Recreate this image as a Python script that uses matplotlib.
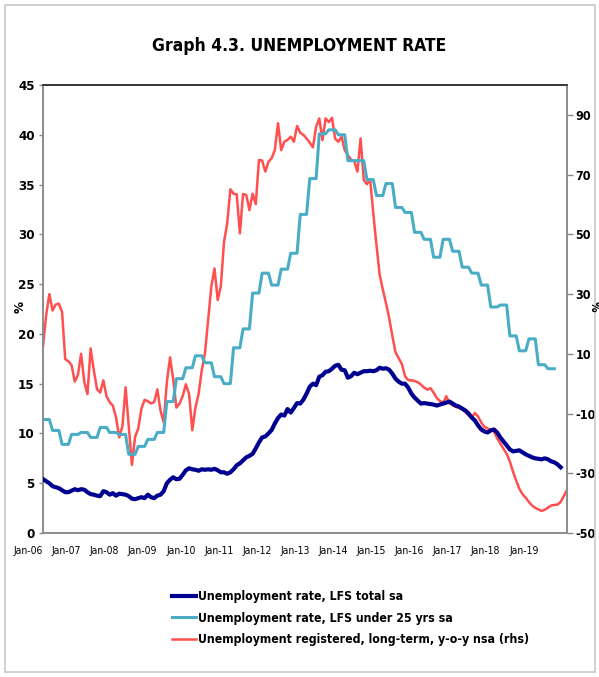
import matplotlib
matplotlib.use('Agg')
import matplotlib.pyplot as plt
import numpy as np
from matplotlib.patches import Rectangle

plt.rcParams['font.family'] = ['DejaVu Sans']
plt.rcParams['font.stretch'] = 'condensed'
plt.rcParams['axes.unicode_minus'] = False

# monthly, starting Jan-06
lfs_total = [
    5.42, 5.2, 5.0, 4.7, 4.6, 4.5, 4.3, 4.1, 4.1, 4.25, 4.4, 4.3,
    4.4, 4.35, 4.1, 3.9, 3.85, 3.75, 3.7, 4.2, 4.1, 3.85, 4.0, 3.75,
    3.95, 3.9, 3.85, 3.7, 3.45, 3.4, 3.5, 3.6, 3.5, 3.85, 3.6, 3.5,
    3.75, 3.85, 4.2, 5.0, 5.35, 5.6, 5.4, 5.45, 5.85, 6.3, 6.5, 6.4,
    6.35, 6.25, 6.4, 6.35, 6.4, 6.35, 6.45, 6.3, 6.1, 6.1, 5.95, 6.1,
    6.4, 6.8, 7.0, 7.3, 7.6, 7.75, 7.95, 8.5, 9.1, 9.6, 9.7, 10.0,
    10.35, 11.0, 11.55, 11.9, 11.8, 12.45, 12.1, 12.55, 13.05, 13.0, 13.4, 14.0,
    14.7, 15.0, 14.85, 15.7, 15.85, 16.2, 16.25, 16.5, 16.8, 16.9, 16.4, 16.35,
    15.6, 15.75, 16.1, 15.95, 16.1, 16.25, 16.25, 16.3, 16.25, 16.35, 16.6, 16.5,
    16.55, 16.4, 16.0, 15.5, 15.2, 15.0, 15.0, 14.6, 14.0, 13.6, 13.3, 13.0,
    13.05, 13.0, 12.95, 12.9, 12.8, 12.9, 13.0, 13.1, 13.2, 13.0, 12.8, 12.7,
    12.5, 12.3, 12.0, 11.6, 11.3, 10.8, 10.4, 10.2, 10.1, 10.3, 10.4, 10.1,
    9.6, 9.2, 8.8, 8.4, 8.2, 8.25, 8.3, 8.1, 7.9, 7.75, 7.6, 7.5,
    7.45, 7.4, 7.5, 7.4, 7.2, 7.1, 6.9, 6.6,
]

# quarterly LFS youth rate, shown monthly
lfs_under25 = [
    11.4, 11.4, 11.4, 10.3, 10.3, 10.3, 8.9, 8.9, 8.9, 9.9, 9.9, 9.9,
    10.1, 10.1, 10.1, 9.6, 9.6, 9.6, 10.6, 10.6, 10.6, 10.1, 10.1, 10.1,
    9.9, 9.9, 9.9, 7.9, 7.9, 7.9, 8.7, 8.7, 8.7, 9.4, 9.4, 9.4,
    10.1, 10.1, 10.1, 13.2, 13.2, 13.2, 15.5, 15.5, 15.5, 16.6, 16.6, 16.6,
    17.8, 17.8, 17.8, 17.1, 17.1, 17.1, 15.7, 15.7, 15.7, 15.0, 15.0, 15.0,
    18.6, 18.6, 18.6, 20.5, 20.5, 20.5, 24.1, 24.1, 24.1, 26.1, 26.1, 26.1,
    24.9, 24.9, 24.9, 26.5, 26.5, 26.5, 28.1, 28.1, 28.1, 32.0, 32.0, 32.0,
    35.6, 35.6, 35.6, 40.1, 40.1, 40.1, 40.5, 40.5, 40.5, 40.0, 40.0, 40.0,
    37.4, 37.4, 37.4, 37.4, 37.4, 37.4, 35.5, 35.5, 35.5, 33.9, 33.9, 33.9,
    35.1, 35.1, 35.1, 32.7, 32.7, 32.7, 32.2, 32.2, 32.2, 30.2, 30.2, 30.2,
    29.5, 29.5, 29.5, 27.7, 27.7, 27.7, 29.5, 29.5, 29.5, 28.3, 28.3, 28.3,
    26.7, 26.7, 26.7, 26.1, 26.1, 26.1, 24.9, 24.9, 24.9, 22.7, 22.7, 22.7,
    22.9, 22.9, 22.9, 19.8, 19.8, 19.8, 18.3, 18.3, 18.3, 19.5, 19.5, 19.5,
    16.9, 16.9, 16.9, 16.5, 16.5, 16.5,
]

# registered long-term unemployment, y-o-y % (rhs)
registered_lt = [
    12.4, 23.0, 30.0, 24.5, 26.5, 26.8, 24.0, 8.2, 7.5, 6.2, 0.7, 2.9,
    10.0, 0.6, -3.5, 11.8, 4.5, -1.8, -3.0, 1.1, -4.2, -6.2, -7.4, -11.3,
    -18.0, -14.3, -1.2, -14.0, -27.2, -17.8, -15.0, -8.3, -5.4, -5.9, -6.6, -6.2,
    -1.9, -9.0, -13.0, 0.5, 8.8, 1.5, -8.0, -6.7, -4.1, -0.2, -3.5, -15.6,
    -8.0, -3.4, 4.6, 10.2, 21.3, 32.5, 38.6, 28.0, 32.6, 47.5, 53.7, 65.1,
    63.6, 63.4, 50.3, 63.5, 63.2, 58.1, 63.6, 60.1, 74.9, 74.7, 71.0, 74.3,
    75.5, 78.2, 87.2, 78.2, 81.0, 81.6, 82.7, 81.0, 86.3, 84.0, 83.3, 82.1,
    80.7, 79.1, 86.0, 88.8, 81.5, 88.8, 87.6, 89.0, 82.0, 81.0, 82.7, 78.2,
    76.5, 75.0, 74.5, 71.0, 82.1, 68.2, 66.8, 68.5, 57.0, 46.5, 36.5, 31.5,
    27.0, 22.0, 16.0, 10.5, 8.5, 6.6, 2.5, 1.2, 1.1, 0.9, 0.5, -0.3,
    -1.3, -2.0, -1.5, -3.0, -4.8, -5.8, -6.4, -4.2, -6.6, -7.3, -7.8, -8.1,
    -8.6, -9.5, -10.6, -11.4, -9.8, -11.0, -13.0, -14.5, -15.0, -15.4, -16.0, -18.3,
    -20.0, -21.8, -23.5, -26.0, -29.5, -32.5, -35.2, -37.0, -38.2, -39.6, -40.8, -41.6,
    -42.1, -42.6, -42.2, -41.5, -40.8, -40.6, -40.5, -39.6, -37.6, -35.6,
]

year_labels = ['Jan-%02d' % y for y in range(6, 20)]

labels = [
    'Unemployment rate, LFS total sa',
    'Unemployment rate, LFS under 25 yrs sa',
    'Unemployment registered, long-term, y-o-y nsa (rhs)',
]
colors = ['#000090', '#4BACC6', '#FF4F4F']

fig = plt.figure(figsize=(5.99, 6.77), dpi=100)
fig.patches.append(Rectangle((0.008, 0.007), 0.985, 0.986, transform=fig.transFigure,
                             fill=False, edgecolor='#c8c8c8', linewidth=1.2))

ax = fig.add_axes([43 / 599, 1 - 533 / 677, (567 - 43) / 599, (533 - 85) / 677])
ax2 = ax.twinx()

ax.plot(np.arange(len(lfs_total)), lfs_total, color=colors[0], lw=3.0, label=labels[0], zorder=3)
ax.plot(np.arange(len(lfs_under25)), lfs_under25, color=colors[1], lw=2.2, label=labels[1], zorder=2)
ax2.plot(np.arange(len(registered_lt)), registered_lt, color=colors[2], lw=1.8, label=labels[2])

ax.set_zorder(ax2.get_zorder() + 1)
ax.patch.set_visible(False)

ax.set_xlim(0, len(registered_lt) - 1)
ax.set_ylim(0, 45)
ax.set_yticks(np.arange(0, 46, 5))
ax2.set_ylim(-50, 100)
ax2.set_yticks(np.arange(-50, 91, 20))

ax.set_xticks(np.arange(0, len(year_labels) * 12, 12))
ax.set_xticklabels(year_labels, ha='right', fontsize=7.5)
ax.tick_params(axis='x', length=0, pad=9)
ax.tick_params(axis='y', length=3, width=1, color='#888888', labelsize=9.5, pad=3)
ax2.tick_params(axis='y', length=4, width=1, color='#888888', labelsize=9, pad=2)
for t in ax.get_yticklabels() + ax2.get_yticklabels():
    t.set_fontweight('bold')

for a in (ax, ax2):
    for s in ('left', 'right', 'bottom'):
        a.spines[s].set_color('#8c8c8c')
        a.spines[s].set_linewidth(1.2)
    a.spines['top'].set_color('#333333')
    a.spines['top'].set_linewidth(1.2)

fig.text(20 / 599, 1 - 307 / 677, '%', rotation=90, ha='center', va='center',
         fontsize=9.5, fontweight='bold')
fig.text(594 / 599, 1 - 306 / 677, '%', rotation=270, ha='center', va='center',
         fontsize=8.5, fontweight='bold')

fig.text(0.5, 1 - 46 / 677, 'Graph 4.3. UNEMPLOYMENT RATE', ha='center', va='center',
         fontsize=12.5, fontweight='bold')

handles = ax.get_lines() + ax2.get_lines()
fig.legend(handles, labels, loc='upper left', bbox_to_anchor=(172 / 599, 1 - 590 / 677),
           frameon=False, handlelength=2.0, handletextpad=0.15,
           labelspacing=0.7, borderaxespad=0, borderpad=0,
           prop={'weight': 'bold', 'size': 8.8, 'stretch': 'condensed'})

fig.savefig('out.png', dpi=100)
